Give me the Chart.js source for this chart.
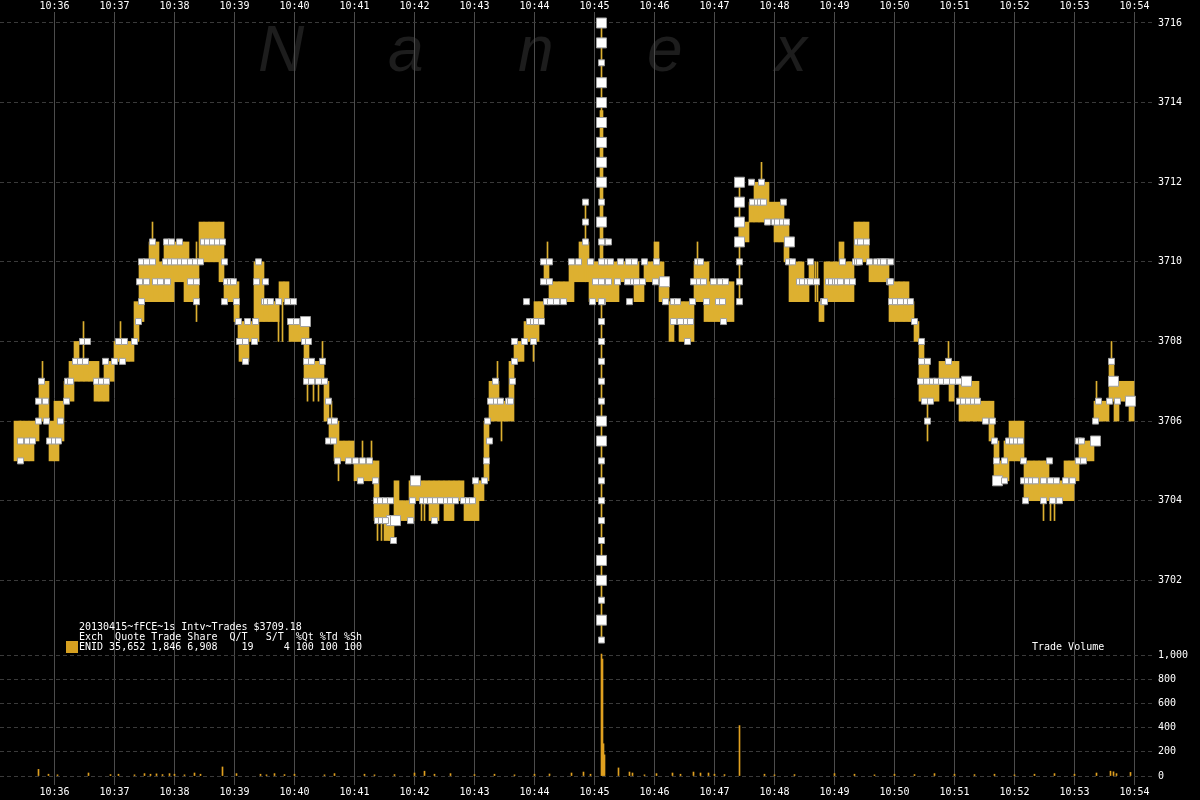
<!DOCTYPE html>
<html>
<head>
<meta charset="utf-8">
<title>fFCE 1s Intv Trades</title>
<script src="https://cdn.jsdelivr.net/npm/chart.js@4.4.1/dist/chart.umd.min.js"></script>
<style>
  html, body { margin: 0; padding: 0; background: #000; }
  #wrap { position: relative; width: 1200px; height: 800px; overflow: hidden; background: #000; }
  #chart { position: absolute; left: 0; top: 0; }
  .mark { position: absolute; top: 12px; font: italic 64px "Liberation Sans", Arial, sans-serif; color: #1d1d1d; }
  .info { position: absolute; font: 10px "DejaVu Sans Mono", monospace; color: #fff; white-space: pre; line-height: 10px; }
  #swatch { position: absolute; left: 66px; top: 641px; width: 12px; height: 12px; background: #d6a020; }
</style>
</head>
<body>
<div id="wrap">
  <div class="mark" style="left:258px">N</div>
  <div class="mark" style="left:388px">a</div>
  <div class="mark" style="left:518px">n</div>
  <div class="mark" style="left:647px">e</div>
  <div class="mark" style="left:775px">x</div>
  <canvas id="chart" width="1200" height="800"></canvas>
  <div class="info" style="left:79px; top:622px">20130415~fFCE~1s Intv~Trades $3709.18
Exch  Quote Trade Share  Q/T   S/T  %Qt %Td %Sh
ENID 35,652 1,846 6,908    19     4 100 100 100</div>
  <div id="swatch"></div>
  <div class="info" style="left:1032px; top:642px">Trade Volume</div>
</div>
<script>
// --- data ---
// x values are seconds after 10:35:00
const timeLabels = ['10:36', '10:37', '10:38', '10:39', '10:40', '10:41', '10:42', '10:43', '10:44', '10:45',
  '10:46', '10:47', '10:48', '10:49', '10:50', '10:51', '10:52', '10:53', '10:54'];
const priceTicks = [3702, 3704, 3706, 3708, 3710, 3712, 3714, 3716];
const volumeTicks = [0, 200, 400, 600, 800, 1000];

// trade range per 5 second bin, first bin centred at 10:35:22
const binStart = 22;
const binSec = 5;
const tradeLow = [
  3705, 3705, 3705, 3705, 3705.5, 3706, 3706, 3705, 3705, 3705.5, 3706.5, 3706.5,
  3707, 3707, 3707, 3707, 3706.5, 3706.5, 3706.5, 3707, 3707.5, 3707.5, 3707.5, 3707.5,
  3708, 3708.5, 3709, 3709, 3709, 3709, 3709, 3709, 3709.5, 3709.5, 3709, 3709,
  3709, 3710, 3710, 3710, 3710, 3709.5, 3709, 3709, 3708.5, 3707.5, 3707.5, 3708,
  3708, 3708.5, 3708.5, 3708.5, 3708.5, 3709, 3709, 3708, 3708, 3708, 3707, 3707,
  3707, 3707, 3706, 3705.5, 3705, 3705, 3705, 3705, 3704.5, 3704.5, 3704.5, 3704.5,
  3703.5, 3703.5, 3703, 3703, 3703.5, 3703.5, 3703.5, 3703.5, 3704, 3704, 3704, 3703.5,
  3703.5, 3704, 3703.5, 3703.5, 3704, 3704, 3703.5, 3703.5, 3703.5, 3704, 3704.5, 3706,
  3706, 3706, 3706, 3706, 3707.5, 3707.5, 3708, 3708, 3708, 3708.5, 3709.5, 3709,
  3709, 3709, 3709, 3709, 3709.5, 3709.5, 3709.5, 3709, 3709, 3709, 3709, 3709,
  3709, 3709.5, 3709.5, 3709.5, 3709, 3709, 3709.5, 3709.5, 3709.5, 3709, 3709, 3708,
  3708.5, 3708, 3708, 3708, 3709, 3709, 3708.5, 3708.5, 3708.5, 3708.5, 3708.5, 3708.5,
  null, 3710.5, 3710.5, 3711, 3711, 3711, 3711, 3711, 3710.5, 3710.5, 3710, 3709,
  3709, 3709, 3709, 3709.5, null, 3708.5, 3709, 3709, 3709, 3709, 3709, 3709,
  3710, 3710, 3710, 3709.5, 3709.5, 3709.5, 3709.5, 3708.5, 3708.5, 3708.5, 3708.5, 3708.5,
  3708, 3706.5, 3706.5, 3706.5, 3706.5, 3707, 3707, 3706.5, 3707, 3706, 3706, 3706,
  3706, 3706, 3706, 3705.5, 3704.5, 3704.5, 3704.5, 3705, 3705, 3705, 3704, 3704,
  3704, 3704, 3704, 3704, 3704, 3704, 3704, 3704, 3704.5, 3705, 3705, 3705,
  3706, 3706, 3706, 3706.5, 3706, 3706.5, 3706.5, 3706
];
const tradeHigh = [
  3706, 3706, 3706, 3706, 3706, 3707, 3707, 3706, 3706.5, 3706.5, 3707, 3707.5,
  3708, 3707.5, 3707.5, 3707.5, 3707.5, 3707, 3707.5, 3707.5, 3708, 3708, 3708, 3708,
  3709, 3710, 3710, 3710.5, 3710.5, 3710, 3710.5, 3710.5, 3710.5, 3710.5, 3710.5, 3710,
  3710, 3711, 3711, 3711, 3711, 3711, 3709.5, 3709.5, 3709.5, 3708.5, 3708.5, 3708.5,
  3710, 3710, 3709, 3709, 3709, 3709.5, 3709.5, 3708.5, 3708.5, 3708.5, 3708.5, 3707.5,
  3707.5, 3707.5, 3707, 3706, 3706, 3705.5, 3705.5, 3705.5, 3705, 3705, 3705, 3705,
  3705, 3704, 3704, 3703.5, 3704.5, 3704, 3704, 3704.5, 3704.5, 3704.5, 3704.5, 3704.5,
  3704.5, 3704.5, 3704.5, 3704.5, 3704.5, 3704.5, 3704, 3704, 3704.5, 3704.5, 3706, 3707,
  3707, 3706.5, 3706.5, 3707.5, 3708, 3708, 3708.5, 3708.5, 3709, 3709, 3710, 3709.5,
  3709.5, 3709.5, 3709.5, 3710, 3710, 3710.5, 3710.5, 3710, 3710, 3710, 3710, 3710,
  3710, 3710, 3710, 3710, 3710, 3709.5, 3710, 3710, 3710.5, 3710, 3709.5, 3709,
  3709, 3709, 3709, 3709, 3710, 3710, 3710, 3709.5, 3709.5, 3709.5, 3709.5, 3709.5,
  null, 3711, 3711, 3711.5, 3712, 3712, 3712, 3711.5, 3711.5, 3711.5, 3711, 3710,
  3710, 3710, 3709.5, 3710, null, 3709, 3710, 3710, 3710, 3710.5, 3710, 3710,
  3711, 3711, 3711, 3710, 3710, 3710, 3710, 3709.5, 3709.5, 3709.5, 3709.5, 3709,
  3708.5, 3708, 3707.5, 3707, 3707, 3707.5, 3707.5, 3707.5, 3707.5, 3707, 3707, 3707,
  3707, 3706.5, 3706.5, 3706.5, 3705.5, 3705, 3705.5, 3706, 3706, 3706, 3705, 3705,
  3705, 3705, 3705, 3704.5, 3704.5, 3704.5, 3705, 3705, 3705, 3705.5, 3705.5, 3705.5,
  3706.5, 3706.5, 3706.5, 3707.5, 3707, 3707, 3707, 3707
];

// single second trades sticking out of the bins [time, low, high]
const tradeWicks = [
  [26, 3705, 3706], [48, 3707, 3707.5], [89, 3707.5, 3708.5], [126, 3708, 3708.5], [158, 3710.5, 3711],
  [202, 3708.5, 3710.5], [244, 3708, 3709], [284, 3708, 3709], [288, 3708, 3709], [313, 3706.5, 3707],
  [319, 3706.5, 3707], [324, 3706.5, 3707], [328, 3707.5, 3708], [337, 3706, 3706.5], [344, 3704.5, 3705],
  [368, 3705, 3705.5], [377, 3705, 3705.5], [382, 3704, 3704.5], [383, 3703, 3703.5], [387, 3703, 3703.5],
  [427, 3703.5, 3704], [430, 3703.5, 3704], [503, 3707, 3707.5], [507, 3705.5, 3706], [539, 3707.5, 3708],
  [553, 3710, 3710.5], [591, 3709.5, 3711.5], [606, 3709, 3713.8], [607, 3700.5, 3716], [608, 3709, 3713.8],
  [703, 3710, 3710.5], [745, 3709, 3712], [767, 3712, 3712.5], [821, 3709, 3710], [823, 3709, 3710],
  [933, 3705.5, 3706.5], [954, 3707.5, 3708], [1049, 3703.5, 3704], [1056, 3703.5, 3704], [1060, 3703.5, 3704],
  [1102, 3706.5, 3707], [1117, 3707.5, 3708]
];

// bid / ask quote boxes [time, price]
const quoteBoxes = [
  [26, 3705], [26, 3705.5], [33, 3705.5], [38, 3705.5], [44, 3706.5], [51, 3706.5], [44, 3706], [52, 3706], [47, 3707],
  [55, 3705.5], [60, 3705.5], [64, 3705.5], [66, 3706], [72, 3706.5], [73, 3707], [76, 3707], [81, 3707.5], [86, 3707.5],
  [91, 3707.5], [88, 3708], [93, 3708], [102, 3707], [107, 3707], [112, 3707], [111, 3707.5], [120, 3707.5], [128, 3707.5],
  [124, 3708], [130, 3708], [140, 3708], [144, 3708.5], [147, 3709],
  [147, 3710], [152, 3710], [158, 3710], [171, 3710], [176, 3710], [180, 3710], [186, 3710], [190, 3710], [196, 3710], [201, 3710], [206, 3710],
  [145, 3709.5], [152, 3709.5], [161, 3709.5], [166, 3709.5], [173, 3709.5], [196, 3709.5], [202, 3709.5],
  [158, 3710.5], [172, 3710.5], [177, 3710.5], [185, 3710.5], [209, 3710.5], [213, 3710.5], [218, 3710.5], [223, 3710.5], [228, 3710.5],
  [202, 3709], [230, 3709], [242, 3709], [230, 3710], [232, 3709.5], [236, 3709.5], [239, 3709.5],
  [244, 3708.5], [253, 3708.5], [261, 3708.5], [245, 3708], [251, 3708], [260, 3708], [251, 3707.5],
  [264, 3710], [262, 3709.5], [271, 3709.5], [270, 3709], [272, 3709], [276, 3709], [284, 3709], [293, 3709], [299, 3709],
  [296, 3708.5], [302, 3708.5], [310, 3708], [314, 3708], [312, 3707.5], [317, 3707.5], [328, 3707.5],
  [312, 3707], [317, 3707], [324, 3707], [330, 3707], [334, 3706.5], [336, 3706], [340, 3706], [334, 3705.5], [339, 3705.5],
  [343, 3705], [354, 3705], [361, 3705], [368, 3705], [375, 3705], [366, 3704.5], [381, 3704.5],
  [382, 3704], [386, 3704], [391, 3704], [396, 3704], [418, 3704], [428, 3704], [432, 3704], [436, 3704], [441, 3704],
  [446, 3704], [452, 3704], [456, 3704], [461, 3704], [469, 3704], [474, 3704], [478, 3704],
  [383, 3703.5], [387, 3703.5], [391, 3703.5], [416, 3703.5], [440, 3703.5], [399, 3703],
  [481, 3704.5], [490, 3704.5], [492, 3705], [495, 3705.5], [493, 3706],
  [496, 3706.5], [502, 3706.5], [506, 3706.5], [514, 3706.5], [516, 3706.5], [501, 3707], [518, 3707], [520, 3707.5],
  [520, 3708], [530, 3708], [539, 3708], [532, 3709], [535, 3708.5], [539, 3708.5], [542, 3708.5], [547, 3708.5],
  [549, 3710], [555, 3710], [549, 3709.5], [555, 3709.5], [552, 3709], [556, 3709], [562, 3709], [569, 3709],
  [577, 3710], [584, 3710], [591, 3711.5], [591, 3711], [591, 3710.5], [596, 3710], [601, 3709.5], [598, 3709],
  [608, 3709], [635, 3709], [671, 3709], [679, 3709], [683, 3709], [698, 3709], [712, 3709], [724, 3709], [728, 3709],
  [611, 3709.5], [614, 3709.5], [623, 3709.5], [633, 3709.5], [639, 3709.5], [642, 3709.5], [648, 3709.5], [661, 3709.5],
  [699, 3709.5], [705, 3709.5], [709, 3709.5], [719, 3709.5], [726, 3709.5], [731, 3709.5],
  [610, 3710], [616, 3710], [626, 3710], [634, 3710], [640, 3710], [650, 3710], [662, 3710], [703, 3710], [706, 3710],
  [610, 3710.5], [614, 3710.5], [679, 3708.5], [686, 3708.5], [692, 3708.5], [696, 3708.5], [729, 3708.5], [693, 3708],
  [757, 3712], [767, 3712], [758, 3711.5], [763, 3711.5], [766, 3711.5], [769, 3711.5], [789, 3711.5],
  [773, 3711], [780, 3711], [783, 3711], [788, 3711], [792, 3711],
  [794, 3710], [798, 3710], [816, 3710], [805, 3709.5], [808, 3709.5], [813, 3709.5], [816, 3709.5], [822, 3709.5],
  [829, 3709], [830, 3709], [834, 3709.5], [837, 3709.5], [841, 3709.5], [843, 3709.5], [846, 3709.5], [853, 3709.5], [858, 3709.5],
  [848, 3710], [861, 3710], [863, 3710], [865, 3710], [875, 3710], [882, 3710], [886, 3710], [891, 3710],
  [863, 3710.5], [866, 3710.5], [872, 3710.5], [895, 3709.5], [897, 3709], [902, 3709],
  [889, 3710], [896, 3710], [896, 3709.5], [901, 3709], [906, 3709], [912, 3709], [916, 3709],
  [920, 3708.5], [927, 3708], [927, 3707.5], [933, 3707.5], [954, 3707.5],
  [926, 3707], [932, 3707], [938, 3707], [942, 3707], [947, 3707], [952, 3707], [958, 3707], [964, 3707],
  [930, 3706.5], [936, 3706.5], [965, 3706.5], [969, 3706.5], [974, 3706.5], [979, 3706.5], [983, 3706.5],
  [933, 3706], [991, 3706], [998, 3706], [1000, 3705.5], [1002, 3705], [1010, 3705], [1010, 3704.5],
  [1014, 3705.5], [1018, 3705.5], [1022, 3705.5], [1026, 3705.5], [1029, 3705], [1055, 3705],
  [1029, 3704.5], [1033, 3704.5], [1037, 3704.5], [1041, 3704.5], [1049, 3704.5], [1056, 3704.5], [1062, 3704.5], [1071, 3704.5], [1078, 3704.5],
  [1031, 3704], [1049, 3704], [1058, 3704], [1065, 3704],
  [1084, 3705.5], [1087, 3705.5], [1084, 3705], [1089, 3705], [1101, 3706],
  [1104, 3706.5], [1115, 3706.5], [1123, 3706.5], [1117, 3707.5]
];
const quoteBoxesBig = [
  [311, 3708.5], [397, 3703.5], [401, 3703.5], [421, 3704.5], [670, 3709.5], [795, 3710.5], [972, 3707],
  [1003, 3704.5], [1101, 3705.5], [1119, 3707], [1136, 3706.5],
  [745, 3712], [745, 3711.5], [745, 3711], [745, 3710.5]
];
const quoteColumn = [[745, 3710], [745, 3709.5], [745, 3709]];

// the 10:45:07 quote spike
const spikeTime = 607;
const spikeBig = [3716, 3715.5, 3714.5, 3714, 3713.5, 3713, 3712.5, 3712, 3711, 3706, 3705.5, 3702.5, 3702, 3701];
const spikeSmall = [3715, 3711.5, 3710.5, 3710, 3709.5, 3709, 3708.5, 3708, 3707.5, 3707, 3706.5, 3705, 3704.5,
  3704, 3703.5, 3703, 3701.5, 3700.5];

// trade volume per second [time, shares]
const tradeVolume = [
  [44, 55], [54, 15], [63, 10], [94, 25], [116, 12], [124, 15], [140, 10], [150, 20], [156, 15], [162, 18],
  [168, 12], [175, 20], [180, 15], [190, 10], [200, 25], [206, 15], [228, 75], [242, 20], [266, 15], [272, 10],
  [280, 20], [290, 12], [300, 15], [330, 10], [340, 20], [370, 15], [380, 10], [400, 12], [420, 25], [430, 40],
  [440, 15], [456, 20], [480, 12], [500, 15], [520, 10], [540, 15], [555, 17], [577, 25], [589, 33], [596, 15],
  [607, 1008], [608, 967], [609, 267], [610, 175], [624, 67], [635, 33], [638, 25], [650, 10], [662, 20], [678, 25],
  [686, 15], [699, 33], [706, 25], [714, 25], [720, 15], [730, 12], [745, 417], [770, 15], [780, 10], [800, 12],
  [840, 20], [860, 15], [880, 10], [900, 15], [920, 12], [940, 20], [960, 15], [980, 12], [1000, 15], [1020, 10],
  [1040, 15], [1060, 20], [1080, 15], [1102, 25], [1116, 40], [1119, 35], [1122, 20], [1136, 30]
];

// --- colours ---
const gold = '#ddb030';
const volColour = '#e0a020';
const boxFill = '#ffffff';
const boxEdge = '#a0a0a0';

// --- datasets ---
const blocks = [];
tradeLow.forEach((lo, i) => {
  if (lo === null) return;
  blocks.push({ x: binStart + i * binSec, y: [lo, tradeHigh[i]] });
});

const wicks = tradeWicks.map(([t, lo, hi]) => ({ x: t, y: [lo, hi] }));
const volumes = tradeVolume.map(([t, v]) => ({ x: t, y: v }));
const toPoints = list => list.map(([t, p]) => ({ x: t, y: p }));

const bigPoints = toPoints(quoteBoxesBig).concat(spikeBig.map(p => ({ x: spikeTime, y: p })));
const smallPoints = toPoints(quoteBoxes).concat(toPoints(quoteColumn), spikeSmall.map(p => ({ x: spikeTime, y: p })));

function boxSet(data, side, order) {
  return {
    type: 'scatter',
    data: data,
    xAxisID: 'x',
    yAxisID: 'y',
    pointStyle: 'rect',
    pointRadius: side / Math.SQRT2,
    pointBackgroundColor: boxFill,
    pointBorderColor: boxEdge,
    pointBorderWidth: 1,
    order: order
  };
}

const tickFont = { family: 'DejaVu Sans Mono', size: 10 };

function timeAxis(position, showGrid, pad) {
  return {
    type: 'linear',
    position: position,
    offset: false,
    min: 5.5,
    max: 1158.5,
    grid: { display: showGrid, offset: false, color: '#4c4c4c', lineWidth: 1, drawTicks: false },
    border: { display: false },
    ticks: {
      color: '#fff',
      font: tickFont,
      padding: pad,
      autoSkip: false,
      maxRotation: 0,
      callback: v => timeLabels[v / 60 - 1]
    },
    afterBuildTicks: axis => { axis.ticks = timeLabels.map((_, i) => ({ value: (i + 1) * 60 })); },
    afterFit: axis => { axis.height = position === 'top' ? 12 : 15; }
  };
}

function rightAxis(weight, min, max, ticks, fmt) {
  return {
    type: 'linear',
    position: 'right',
    stack: 'panels',
    stackWeight: weight,
    stacked: false,
    min: min,
    max: max,
    grid: { color: '#3a3a3a', lineWidth: 1, drawTicks: false },
    border: { display: false, dash: [4, 3] },
    ticks: { color: '#fff', font: tickFont, padding: 5, autoSkip: false, callback: fmt },
    afterBuildTicks: axis => { axis.ticks = ticks.map(v => ({ value: v })); },
    afterFit: axis => { axis.width = 47; }
  };
}

const cfg = {
  type: 'bar',
  data: {
    datasets: [
      boxSet(smallPoints, 6, 0),
      boxSet(bigPoints, 10, 0),
      {
        label: 'wicks', data: wicks, backgroundColor: gold, barThickness: 1,
        stack: 'all', xAxisID: 'x', yAxisID: 'y', order: 1
      },
      {
        label: 'trades', data: blocks, backgroundColor: gold, barThickness: 5,
        stack: 'all', xAxisID: 'x', yAxisID: 'y', order: 2
      },
      {
        label: 'volume', data: volumes, backgroundColor: volColour, barThickness: 1,
        stack: 'all', xAxisID: 'x', yAxisID: 'yVol', order: 3
      }
    ]
  },
  options: {
    responsive: false,
    animation: false,
    events: [],
    // no extra room for the point boxes, the plot starts at the left edge
    layout: { padding: 0, autoPadding: false },
    plugins: { legend: { display: false }, tooltip: { enabled: false } },
    scales: {
      x: timeAxis('bottom', true, 1),
      x2: timeAxis('top', false, 0),
      y: rightAxis(636, 3700.3, 3716.276, priceTicks, v => String(v)),
      yVol: rightAxis(137, -74, 1058, volumeTicks, v => v.toLocaleString('en-US'))
    }
  }
};

new Chart(document.getElementById('chart'), cfg);
</script>
</body>
</html>
